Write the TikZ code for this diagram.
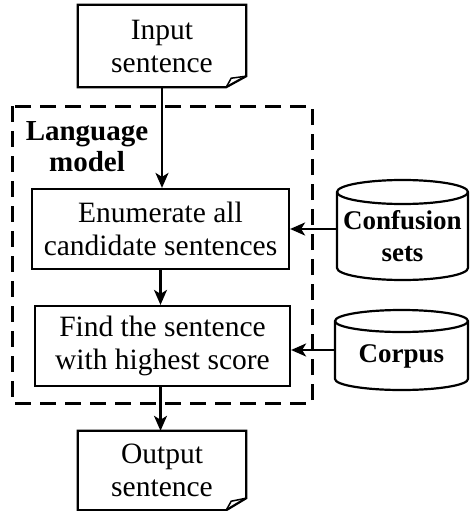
\documentclass[tikz,border=0pt]{standalone}
\usepackage{fontspec}
\setmainfont{Liberation Serif}
\usetikzlibrary{arrows.meta}

\begin{document}
\begin{tikzpicture}[x=1pt,y=-1pt,
  txt/.style={font=\fontsize{29.5}{33}\selectfont, align=center, inner sep=0pt},
  docshape/.style={txt, minimum width=168pt},
  stepbox/.style={txt, draw, line width=2.2pt, minimum height=80pt},
  dbtxt/.style={txt, font=\fontsize{27}{32}\selectfont\bfseries},
  outl/.style={line width=2.2pt, line join=miter},
  arr/.style={line width=2.2pt, -{Stealth[length=15pt,width=13pt,inset=4pt]}}]
\useasboundingbox (0,0) rectangle (470,511);

% Input document
\node[docshape, minimum height=82pt] (input) at (162,46) {Input\\sentence};
\draw[outl] (input.north west) -- (input.north east) -- ([yshift=11pt]input.south east) -- ([xshift=-20pt]input.south east) -- (input.south west) -- cycle;
\draw[outl, line width=1.5pt] ([xshift=-20pt]input.south east) -- ([xshift=-15pt,yshift=9pt]input.south east) -- ([yshift=11pt]input.south east);

% Language model frame
\draw[line width=3pt, dash pattern=on 16pt off 9pt] (12,106) rectangle (312,403);
\node[dbtxt, font=\fontsize{29}{31}\selectfont\bfseries] (lm) at (87,147) {Language\\model};

% Steps
\node[stepbox, minimum width=257pt] (enum) at (160.5,229) {Enumerate all\\candidate sentences};
\node[stepbox, minimum width=255pt] (find) at (162.5,346) {Find the sentence\\with highest score};

% Output document
\node[docshape, minimum height=79pt] (output) at (162,470.5) {Output\\sentence};
\draw[outl] (output.north west) -- (output.north east) -- ([yshift=12pt]output.south east) -- ([xshift=-20pt]output.south east) -- (output.south west) -- cycle;
\draw[outl, line width=1.5pt] ([xshift=-20pt]output.south east) -- ([xshift=-15pt,yshift=9pt]output.south east) -- ([yshift=12pt]output.south east);

% Confusion sets
\node[dbtxt] (conf) at (402.5,236) {Confusion\\sets};
\draw[outl] (337,192) -- (337,268) arc[start angle=180, end angle=360, x radius=65.5pt, y radius=12pt] -- (468,192) arc[start angle=0, end angle=180, x radius=65.5pt, y radius=12pt] -- cycle;
\draw[outl] (337,192) arc[start angle=180, end angle=360, x radius=65.5pt, y radius=12pt];
\coordinate (confw) at (337,229);

% Corpus
\node[dbtxt] (corpus) at (401.5,356) {Corpus};
\draw[outl] (335,321) -- (335,379) arc[start angle=180, end angle=360, x radius=66.5pt, y radius=11pt] -- (468,321) arc[start angle=0, end angle=180, x radius=66.5pt, y radius=11pt] -- cycle;
\draw[outl] (335,321) arc[start angle=180, end angle=360, x radius=66.5pt, y radius=11pt];
\coordinate (corpw) at (335,350);

% Arrows
\draw[arr] (input.south) -- (input.south |- enum.north);
\draw[arr] (enum.south) -- (enum.south |- find.north);
\draw[arr] (enum.south |- find.south) -- (enum.south |- output.north);
\draw[arr] (confw) -- (enum.east);
\draw[arr] (corpw) -- (corpw -| find.east);

\end{tikzpicture}
\end{document}
